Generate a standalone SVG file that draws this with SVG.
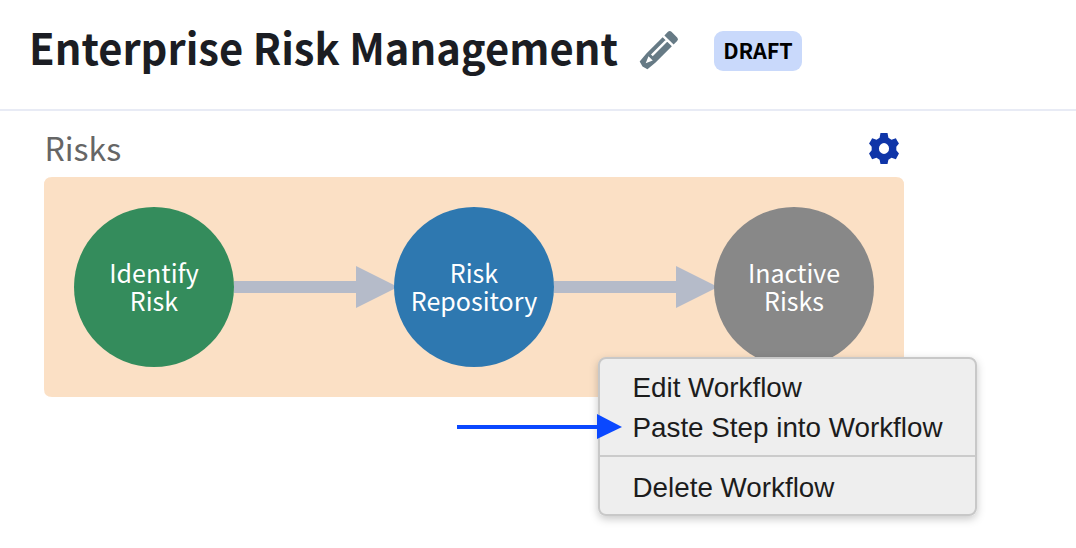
<svg xmlns="http://www.w3.org/2000/svg" width="1076" height="548" viewBox="0 0 1076 548">
<style>
.ui{font-family:"Noto Sans CJK JP","Noto Sans",sans-serif}
.node{font-family:"Noto Sans CJK JP","Noto Sans",sans-serif;font-size:25px;fill:#fff;text-anchor:middle}
.menu{font-family:"Liberation Sans",Arial,sans-serif;font-size:27.8px;fill:#1c1c1c}
.flow{fill:#b5bbc9}
</style>
<defs>
<filter id="sh" x="-10%" y="-10%" width="120%" height="125%"><feDropShadow dx="0" dy="3" stdDeviation="4" flood-color="#000" flood-opacity="0.22"/></filter>
</defs>
<rect width="1076" height="548" fill="#fff"/>
<g id="header">
<text x="29" y="65" class="ui" font-size="43.500" font-weight="700" fill="#1b1d23" textLength="589" lengthAdjust="spacingAndGlyphs">Enterprise Risk Management</text>
<g id="pencil" transform="translate(642.500 66.500) rotate(-45)">
<path fill="#667a85" fill-rule="evenodd" d="M0 0L1.500 -5.500L12 -6.500H35V6.500H12L1.500 5.500ZM4.500 0L11.500 3V-3ZM14.500 -2.500V0H35V-2.500Z"/>
<path fill="#667a85" d="M37.500 -6.500H42.500Q45 -6.500 45 -4V4Q45 6.500 42.500 6.500H37.500Z"/>
</g>
<rect x="714" y="31" width="88" height="40" rx="9" fill="#c9d9fb"/>
<text x="758" y="59" class="ui" font-size="21.500" font-weight="700" fill="#000" text-anchor="middle">DRAFT</text>
<rect x="0" y="109" width="1076" height="2" fill="#e8ebf5"/>
</g>
<g id="lane">
<text x="44.500" y="161" class="ui" font-size="32" fill="#666">Risks</text>
<g id="gear"><path transform="translate(884 148.500) scale(.88 .95) translate(-884 -149.750)" fill="#0f35a8" fill-rule="evenodd" d="M880 133.500H888L889 138.500L892.500 140.500L897.500 139L899 141.500L901 144.500L898 148V151.500L901 155L899 158.500L897.500 161L892.500 159.500L889 161.500L888 166H880L879 161.500L875.500 159.500L870.500 161L869 158.500L867 155L870 151.500V148L867 144.500L869 141.500L870.500 139L875.500 140.500L879 138.500ZM884 144V155.500A5.750 5.750 0 0 0 884 144A5.750 5.750 0 0 0 884 155.500Z"/></g>
<path d="M52 177H896Q904 177 904 185V397H52Q44 397 44 389V185Q44 177 52 177Z" fill="#fbe0c5"/>
</g>
<g id="connectors">
<path class="flow" d="M234 281H356V266L398 287L356 308V293H234Z"/>
<path class="flow" d="M554 281H676V266L718 287L676 308V293H554Z"/>
</g>
<g id="identify-risk"><circle cx="154" cy="287" r="80" fill="#348c5c"/><text class="node"><tspan x="154" y="283">Identify</tspan><tspan x="154" y="311">Risk</tspan></text></g>
<g id="risk-repository"><circle cx="474" cy="287" r="80" fill="#2e78b0"/><text class="node"><tspan x="474" y="283">Risk</tspan><tspan x="474" y="311">Repository</tspan></text></g>
<g id="inactive-risks"><circle cx="794" cy="287" r="80" fill="#888"/><text class="node"><tspan x="794" y="283">Inactive</tspan><tspan x="794" y="311">Risks</tspan></text></g>
<g id="context-menu">
<rect x="599" y="358" width="377" height="157" rx="7" fill="#eee" stroke="#c8c8c8" stroke-width="2" filter="url(#sh)"/>
<text class="menu" x="632.500" y="397">Edit Workflow</text>
<text class="menu" x="632.500" y="437">Paste Step into Workflow</text>
<rect x="600" y="455" width="375" height="2" fill="#cbcbcb"/>
<text class="menu" x="632.500" y="497">Delete Workflow</text>
</g>
<g id="pointer">
<rect x="457" y="425" width="141" height="4" fill="#0a48ff"/>
<path d="M597 414L622 427L597 439Z" fill="#0a48ff"/>
</g>
</svg>
